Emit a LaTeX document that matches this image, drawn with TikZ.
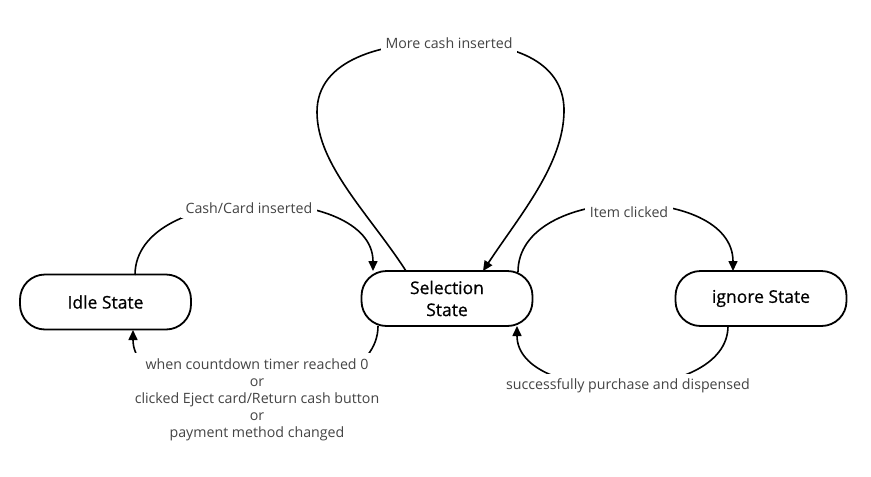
\documentclass[tikz,border=0pt]{standalone}
\usepackage{fontspec}
\setmainfont{Open Sans}
\newfontfamily\statefont{Open Sans}[FakeBold=0.6]
\usetikzlibrary{arrows.meta}
\definecolor{lbl}{HTML}{444444}
\tikzset{
  state/.style={draw=black, line width=1.8pt, fill=white, rounded corners=25pt,
    minimum width=171pt, minimum height=55pt, inner sep=0pt, align=center,
    font=\statefont\fontsize{17.5}{22}\selectfont, text=black},
  lab/.style={fill=white, text=lbl, inner sep=5pt, align=center,
    font=\fontsize{14.2}{17}\selectfont},
  conn/.style={line width=1.6pt, -{Triangle[length=10pt,width=9pt]}},
}
\begin{document}
\begin{tikzpicture}[x=1pt,y=1pt]
\useasboundingbox (0,0) rectangle (871,-477);
% states
\node[state] (idle) at (105.5,-302) {Idle State};
\node[state] (sel) at (447,-298.5) {Selection\\State};
\node[state] (ign) at (761,-298.5) {ignore State};
% anchor coordinates
\coordinate (idleT) at (135,-275);
\coordinate (idleB) at (133,-330);
\coordinate (selTL) at (373,-271);
\coordinate (selTA) at (406,-271);
\coordinate (selTB) at (483,-271);
\coordinate (selTR) at (518,-272);
\coordinate (selBL) at (378,-326);
\coordinate (selBR) at (517,-326);
\coordinate (ignT) at (733,-271);
\coordinate (ignB) at (728,-326);
% Cash/Card inserted
\draw[conn] (idleT) .. controls (135,-182) and (373,-182) .. (selTL);
\node[lab] (l1) at (249,-208) {Cash/Card inserted};
% More cash inserted loop
\draw[conn] (selTA) .. controls (370,-215) and (317,-165) .. (317,-112)
  .. controls (317,-60) and (380,-42) .. (449,-42)
  .. controls (520,-42) and (565,-65) .. (564,-112)
  .. controls (563,-165) and (520,-215) .. (selTB);
\node[lab] (l2) at (449,-43) {More cash inserted};
% Item clicked
\draw[conn] (selTR) .. controls (518,-183) and (733,-183) .. (ignT);
\node[lab] (l3) at (629,-212) {Item clicked};
% successfully purchase and dispensed
\draw[conn] (ignB) .. controls (728,-405) and (517,-405) .. (selBR);
\node[lab] (l4) at (628,-386) {successfully purchase and dispensed};
% when countdown ...
\draw[conn] (selBL) .. controls (378,-415) and (133,-415) .. (idleB);
\node[lab] (l5) at (257,-399.5) {when countdown timer reached 0\\or\\clicked Eject card/Return cash button\\or\\payment method changed};
\end{tikzpicture}
\end{document}
